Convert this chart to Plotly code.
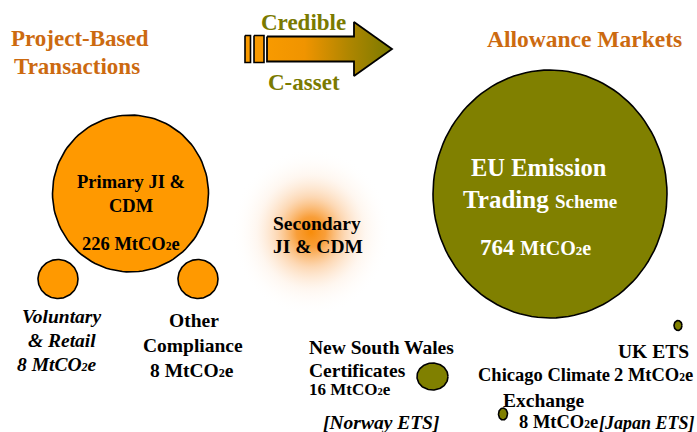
import numpy as np
import plotly.graph_objects as go

W, H = 697, 432

# ---------------- data ----------------
markets = ["Primary JI & CDM", "Voluntary & Retail", "Other Compliance",
           "Secondary JI & CDM", "EU Emission Trading Scheme",
           "New South Wales Certificates", "Chicago Climate Exchange", "UK ETS"]
volumes = [226, 8, 8, None, 764, 16, 8, 2]          # MtCO2e
segment = ["project", "project", "project", "project",
           "allowance", "allowance", "allowance", "allowance"]
no_volume_markets = ["[Norway ETS]", "[Japan ETS]"]

# ---------------- layout (pixel space) ----------------
bubble_cx = [130.5, 58, 198, 311, 550, 432.5, 503, 678]
bubble_cy = [193.5, 279, 279, 232, 194, 376.5, 414, 325.5]
bubble_rx = [78, 20, 20, 80, 117, 15.5, 4.5, 4]
bubble_ry = [78.5, 19.5, 19.5, 84, 124, 13.5, 6, 5]

ORANGE = "#FF9900"
OLIVE = "#808000"
TITLE = "#CC6A10"
FONT = "Liberation Serif"
S = 19.5

fig = go.Figure()

t = np.linspace(0, 2 * np.pi, 121)
for i, name in enumerate(markets):
    xs = bubble_cx[i] + bubble_rx[i] * np.cos(t)
    ys = bubble_cy[i] + bubble_ry[i] * np.sin(t)
    if volumes[i] is None:
        fig.add_trace(go.Scatter(
            x=xs, y=ys, mode="lines", fill="toself", name=name,
            line=dict(width=0, color="rgba(0,0,0,0)"),
            fillgradient=dict(type="radial", colorscale=[
                [0.0, "rgba(247,140,10,1)"], [0.18, "rgba(248,150,40,0.92)"],
                [0.42, "rgba(251,190,130,0.6)"], [0.68, "rgba(254,228,205,0.3)"],
                [0.88, "rgba(255,245,235,0.1)"], [1.0, "rgba(255,255,255,0)"]]),
            hoverinfo="skip", showlegend=False))
    else:
        fig.add_trace(go.Scatter(
            x=xs, y=ys, mode="lines", fill="toself", name=name,
            fillcolor=ORANGE if segment[i] == "project" else OLIVE,
            line=dict(width=1.6, color="black"),
            hoverinfo="skip", showlegend=False))

# arrow (Credible C-asset)
arrow_x0, arrow_neck, arrow_tip = 267, 354, 392
arrow_mid, arrow_body_h, arrow_head_h = 49, 12.5, 27
ax = [arrow_x0, arrow_neck, arrow_neck, arrow_tip, arrow_neck, arrow_neck, arrow_x0, arrow_x0]
ay = [arrow_mid - arrow_body_h, arrow_mid - arrow_body_h, arrow_mid - arrow_head_h, arrow_mid,
      arrow_mid + arrow_head_h, arrow_mid + arrow_body_h, arrow_mid + arrow_body_h, arrow_mid - arrow_body_h]
fig.add_trace(go.Scatter(
    x=ax, y=ay, mode="lines", fill="toself",
    fillgradient=dict(type="horizontal", colorscale=[[0, "#F89A00"], [0.3, "#F09400"],
                                                     [0.65, "#B08600"], [1, "#7A7A00"]]),
    line=dict(width=1.8, color="black"), hoverinfo="skip", showlegend=False))
for (x0, x1) in [(245, 250.5), (254, 264)]:
    fig.add_trace(go.Scatter(
        x=[x0, x1, x1, x0, x0], y=[35.5, 35.5, 62.5, 62.5, 35.5], mode="lines", fill="toself",
        fillcolor="#F99A00", line=dict(width=1.6, color="black"),
        hoverinfo="skip", showlegend=False))


def label(x, y, text, size=S, color="black", bold=True, italic=False, xanchor="center"):
    if bold:
        text = "<b>" + text + "</b>"
    if italic:
        text = "<i>" + text + "</i>"
    fig.add_annotation(x=x, y=y, xref="x", yref="y", text=text, showarrow=False,
                       xanchor=xanchor, yanchor="middle",
                       font=dict(family=FONT, size=size, color=color))


def vol(v, size):
    small = round(size * 0.62, 1)
    return f"{v} MtCO<span style='font-size:{small}px'>2</span>e"


# headings
label(80, 38, "Project-Based", 23, TITLE)
label(77, 66, "Transactions", 23, TITLE)
label(584, 39, "Allowance Markets", 23.5, TITLE)
label(303, 22, "Credible", 23, "#7A7A00")
label(304, 82, "C-asset", 23, "#7A7A00")

# primary
label(131, 182, "Primary JI &", 18.5)
label(131, 206, "CDM", 18.5)
label(131, 244, vol(volumes[0], 18.5), 18.5)
# secondary
label(271, 223, "Secondary", S, xanchor="left")
label(271, 246, "JI & CDM", S, xanchor="left")
# voluntary
label(61, 316, "Voluntary", S, italic=True)
label(62, 340, "& Retail", S, italic=True)
label(57, 364, vol(volumes[1], S), S, italic=True)
# other compliance
label(194, 320, "Other", S)
label(193, 345, "Compliance", S)
label(192, 370, vol(volumes[2], S), S)
# EU ETS
label(539, 167, "EU Emission", 24.5, "white")
label(540, 199, "Trading <span style='font-size:19px'>Scheme</span>", 25, "white")
label(535, 247, "764 <span style='font-size:20px'>MtCO<span style='font-size:13px'>2</span>e</span>", 23, "white")
# NSW
label(307, 347, "New South Wales", S, xanchor="left")
label(307, 370, "Certificates", S, xanchor="left")
label(307, 389, vol(volumes[5], 17), 17, xanchor="left")
label(381, 422, no_volume_markets[0], S, italic=True)
# UK / Chicago
label(653, 351, "UK ETS", S)
label(476, 375, "Chicago Climate", 18.5, xanchor="left")
label(695, 375, vol(volumes[7], 18.5), 18.5, xanchor="right")
label(544, 400, "Exchange", S)
label(517, 422, vol(volumes[6], 18.5), 18.5, xanchor="left")
label(697, 423, no_volume_markets[1], 18, italic=True, xanchor="right")

fig.update_xaxes(range=[0, W], visible=False, fixedrange=True)
fig.update_yaxes(range=[H, 0], visible=False, fixedrange=True)
fig.update_layout(width=W, height=H,
                  margin=dict(l=0, r=0, t=0, b=0),
                  paper_bgcolor="white", plot_bgcolor="white", showlegend=False)

fig.write_html("out.html", config={"displayModeBar": False},
               post_script="document.body.style.margin='0';document.body.style.overflow='hidden';")
